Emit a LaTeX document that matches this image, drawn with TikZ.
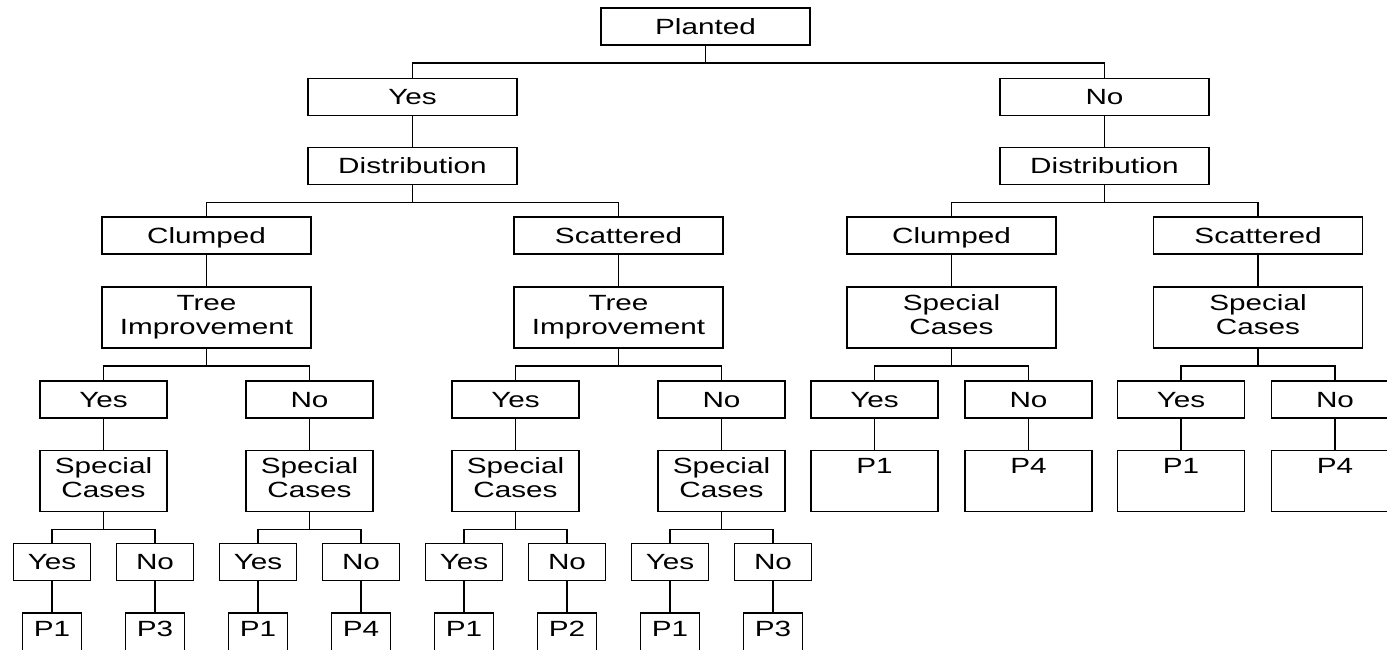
\documentclass[tikz,border=0pt]{standalone}
\usepackage{fontspec}
\setmainfont{Liberation Sans}[FakeStretch=1.35]
\newcommand{\twoline}[2]{\begin{tabular}{@{}c@{}}#1\\[1pt]#2\end{tabular}}
\newcommand{\forkto}[3]{\draw[wire] (#1.south) -- ++(0,17) -| (#2.north);
  \draw[wire] (#1.south) -- ++(0,17) -| (#3.north);}
\begin{document}
\begin{tikzpicture}[x=1pt,y=-1pt,
  box/.style={draw, line width=1.9pt, inner sep=0pt, font=\fontsize{22}{23}\selectfont},
  one/.style={box, minimum height=37pt, text height=15.75pt, text depth=0pt},
  two/.style={box, minimum height=61pt},
  wide/.style={minimum width=209pt},
  mid/.style={minimum width=127pt},
  small/.style={minimum width=77pt},
  pb/.style={two, minimum width=59pt},
  wire/.style={line width=1.9pt}
]
\useasboundingbox (0,0) rectangle (1387,649);
\begin{scope}
\clip (0,0) rectangle (1387,649);
% level 0-2
\node[one,wide] (planted) at (705.5,26.5) {Planted};
\node[one,wide] (yesT) at (412.5,97) {Yes};
\node[one,wide] (noT) at (1104.5,97) {No};
\node[one,wide] (distL) at (412.5,166) {Distribution};
\node[one,wide] (distR) at (1104.5,166) {Distribution};
% level 3
\node[one,wide] (clL) at (206.5,235.5) {Clumped};
\node[one,wide] (scL) at (618.5,235.5) {Scattered};
\node[one,wide] (clR) at (951.5,235.5) {Clumped};
\node[one,wide] (scR) at (1258,235.5) {Scattered};
% level 4
\node[two,wide] (tiL) at (206.5,317.5) {\twoline{Tree}{Improvement}};
\node[two,wide] (tiR) at (618.5,317.5) {\twoline{Tree}{Improvement}};
\node[two,wide] (spR1) at (951.5,317.5) {\twoline{Special}{Cases}};
\node[two,wide] (spR2) at (1258,317.5) {\twoline{Special}{Cases}};
% level 5
\node[one,mid] (a1) at (103.5,399.5) {Yes};
\node[one,mid] (a2) at (309.5,399.5) {No};
\node[one,mid] (a3) at (515.5,399.5) {Yes};
\node[one,mid] (a4) at (721.5,399.5) {No};
\node[one,mid] (a5) at (874.5,399.5) {Yes};
\node[one,mid] (a6) at (1028.5,399.5) {No};
\node[one,mid] (a7) at (1181,399.5) {Yes};
\node[one,mid] (a8) at (1335,399.5) {No};
% level 6
\node[two,mid] (s1) at (103.5,481) {\twoline{Special}{Cases}};
\node[two,mid] (s2) at (309.5,481) {\twoline{Special}{Cases}};
\node[two,mid] (s3) at (515.5,481) {\twoline{Special}{Cases}};
\node[two,mid] (s4) at (721.5,481) {\twoline{Special}{Cases}};
\node[two,mid] (r1) at (874.5,481) {\twoline{P1}{\mbox{}}};
\node[two,mid] (r2) at (1028.5,481) {\twoline{P4}{\mbox{}}};
\node[two,mid] (r3) at (1181,481) {\twoline{P1}{\mbox{}}};
\node[two,mid] (r4) at (1335,481) {\twoline{P4}{\mbox{}}};
% level 7
\node[one,small] (b1) at (52,562) {Yes};
\node[one,small] (b2) at (155,562) {No};
\node[one,small] (b3) at (258,562) {Yes};
\node[one,small] (b4) at (361,562) {No};
\node[one,small] (b5) at (464,562) {Yes};
\node[one,small] (b6) at (567,562) {No};
\node[one,small] (b7) at (670,562) {Yes};
\node[one,small] (b8) at (773,562) {No};
% level 8
\node[pb] (c1) at (52,643.5) {\twoline{P1}{\mbox{}}};
\node[pb] (c2) at (155,643.5) {\twoline{P3}{\mbox{}}};
\node[pb] (c3) at (258,643.5) {\twoline{P1}{\mbox{}}};
\node[pb] (c4) at (361,643.5) {\twoline{P4}{\mbox{}}};
\node[pb] (c5) at (464,643.5) {\twoline{P1}{\mbox{}}};
\node[pb] (c6) at (567,643.5) {\twoline{P2}{\mbox{}}};
\node[pb] (c7) at (670,643.5) {\twoline{P1}{\mbox{}}};
\node[pb] (c8) at (773,643.5) {\twoline{P3}{\mbox{}}};
% connectors
\forkto{planted}{yesT}{noT}
\draw[wire] (yesT) -- (distL);
\draw[wire] (noT) -- (distR);
\forkto{distL}{clL}{scL}
\forkto{distR}{clR}{scR}
\draw[wire] (clL) -- (tiL);
\draw[wire] (scL) -- (tiR);
\draw[wire] (clR) -- (spR1);
\draw[wire] (scR) -- (spR2);
\forkto{tiL}{a1}{a2}
\forkto{tiR}{a3}{a4}
\forkto{spR1}{a5}{a6}
\forkto{spR2}{a7}{a8}
\draw[wire] (a1) -- (s1);
\draw[wire] (a2) -- (s2);
\draw[wire] (a3) -- (s3);
\draw[wire] (a4) -- (s4);
\draw[wire] (a5) -- (r1);
\draw[wire] (a6) -- (r2);
\draw[wire] (a7) -- (r3);
\draw[wire] (a8) -- (r4);
\forkto{s1}{b1}{b2}
\forkto{s2}{b3}{b4}
\forkto{s3}{b5}{b6}
\forkto{s4}{b7}{b8}
\draw[wire] (b1) -- (c1);
\draw[wire] (b2) -- (c2);
\draw[wire] (b3) -- (c3);
\draw[wire] (b4) -- (c4);
\draw[wire] (b5) -- (c5);
\draw[wire] (b6) -- (c6);
\draw[wire] (b7) -- (c7);
\draw[wire] (b8) -- (c8);
\end{scope}
\end{tikzpicture}
\end{document}
